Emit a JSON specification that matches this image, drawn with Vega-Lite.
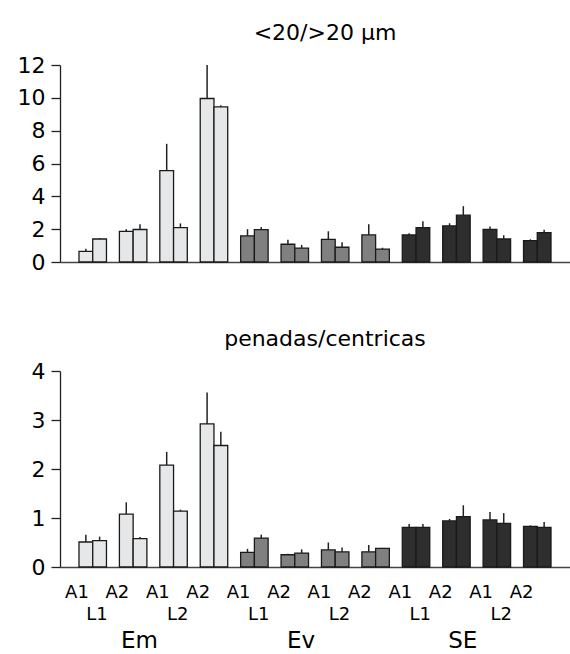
{
  "$schema": "https://vega.github.io/schema/vega-lite/v6.json",
  "padding": {"left": 17, "top": 22, "right": 0, "bottom": 0},
  "config": {
    "view": {"stroke": null},
    "title": {"font": "DejaVu Sans", "fontSize": 22, "fontWeight": "normal", "color": "#000", "dx": 10, "offset": 9},
    "axisY": {"labelFont": "DejaVu Sans", "labelFontSize": 22, "labelColor": "#000", "domainColor": "#222", "domainWidth": 1.3, "tickColor": "#222", "tickWidth": 1.3, "tickSize": 9, "labelPadding": 6, "grid": false, "title": null, "labelOverlap": false},
    "axisX": {"labels": false, "ticks": false, "title": null, "domainColor": "#444", "domainWidth": 1.5, "grid": false}
  },
  "data": {"values": [
    {"p":"a","t":"Em","l":"L1","a":"A1","g":"Em L1 A1","b":1,"v":0.65,"u":0.8},
    {"p":"a","t":"Em","l":"L1","a":"A1","g":"Em L1 A1","b":2,"v":1.4,"u":1.45},
    {"p":"a","t":"Em","l":"L1","a":"A2","g":"Em L1 A2","b":1,"v":1.87,"u":2.0},
    {"p":"a","t":"Em","l":"L1","a":"A2","g":"Em L1 A2","b":2,"v":1.98,"u":2.3},
    {"p":"a","t":"Em","l":"L2","a":"A1","g":"Em L2 A1","b":1,"v":5.57,"u":7.2},
    {"p":"a","t":"Em","l":"L2","a":"A1","g":"Em L2 A1","b":2,"v":2.1,"u":2.35},
    {"p":"a","t":"Em","l":"L2","a":"A2","g":"Em L2 A2","b":1,"v":9.96,"u":12.0},
    {"p":"a","t":"Em","l":"L2","a":"A2","g":"Em L2 A2","b":2,"v":9.45,"u":9.55},
    {"p":"a","t":"Ev","l":"L1","a":"A1","g":"Ev L1 A1","b":1,"v":1.59,"u":2.0},
    {"p":"a","t":"Ev","l":"L1","a":"A1","g":"Ev L1 A1","b":2,"v":1.97,"u":2.13},
    {"p":"a","t":"Ev","l":"L1","a":"A2","g":"Ev L1 A2","b":1,"v":1.08,"u":1.36},
    {"p":"a","t":"Ev","l":"L1","a":"A2","g":"Ev L1 A2","b":2,"v":0.85,"u":1.04},
    {"p":"a","t":"Ev","l":"L2","a":"A1","g":"Ev L2 A1","b":1,"v":1.38,"u":1.87},
    {"p":"a","t":"Ev","l":"L2","a":"A1","g":"Ev L2 A1","b":2,"v":0.9,"u":1.2},
    {"p":"a","t":"Ev","l":"L2","a":"A2","g":"Ev L2 A2","b":1,"v":1.65,"u":2.3},
    {"p":"a","t":"Ev","l":"L2","a":"A2","g":"Ev L2 A2","b":2,"v":0.79,"u":0.87},
    {"p":"a","t":"SE","l":"L1","a":"A1","g":"SE L1 A1","b":1,"v":1.65,"u":1.75},
    {"p":"a","t":"SE","l":"L1","a":"A1","g":"SE L1 A1","b":2,"v":2.09,"u":2.48},
    {"p":"a","t":"SE","l":"L1","a":"A2","g":"SE L1 A2","b":1,"v":2.2,"u":2.36},
    {"p":"a","t":"SE","l":"L1","a":"A2","g":"SE L1 A2","b":2,"v":2.85,"u":3.4},
    {"p":"a","t":"SE","l":"L2","a":"A1","g":"SE L2 A1","b":1,"v":1.99,"u":2.17},
    {"p":"a","t":"SE","l":"L2","a":"A1","g":"SE L2 A1","b":2,"v":1.4,"u":1.63},
    {"p":"a","t":"SE","l":"L2","a":"A2","g":"SE L2 A2","b":1,"v":1.3,"u":1.38},
    {"p":"a","t":"SE","l":"L2","a":"A2","g":"SE L2 A2","b":2,"v":1.79,"u":1.97},
    {"p":"b","t":"Em","l":"L1","a":"A1","g":"Em L1 A1","b":1,"v":0.51,"u":0.66},
    {"p":"b","t":"Em","l":"L1","a":"A1","g":"Em L1 A1","b":2,"v":0.54,"u":0.62},
    {"p":"b","t":"Em","l":"L1","a":"A2","g":"Em L1 A2","b":1,"v":1.08,"u":1.32},
    {"p":"b","t":"Em","l":"L1","a":"A2","g":"Em L1 A2","b":2,"v":0.58,"u":0.61},
    {"p":"b","t":"Em","l":"L2","a":"A1","g":"Em L2 A1","b":1,"v":2.08,"u":2.35},
    {"p":"b","t":"Em","l":"L2","a":"A1","g":"Em L2 A1","b":2,"v":1.14,"u":1.17},
    {"p":"b","t":"Em","l":"L2","a":"A2","g":"Em L2 A2","b":1,"v":2.92,"u":3.56},
    {"p":"b","t":"Em","l":"L2","a":"A2","g":"Em L2 A2","b":2,"v":2.48,"u":2.76},
    {"p":"b","t":"Ev","l":"L1","a":"A1","g":"Ev L1 A1","b":1,"v":0.3,"u":0.37},
    {"p":"b","t":"Ev","l":"L1","a":"A1","g":"Ev L1 A1","b":2,"v":0.59,"u":0.66},
    {"p":"b","t":"Ev","l":"L1","a":"A2","g":"Ev L1 A2","b":1,"v":0.25,"u":0.27},
    {"p":"b","t":"Ev","l":"L1","a":"A2","g":"Ev L1 A2","b":2,"v":0.285,"u":0.36},
    {"p":"b","t":"Ev","l":"L2","a":"A1","g":"Ev L2 A1","b":1,"v":0.35,"u":0.5},
    {"p":"b","t":"Ev","l":"L2","a":"A1","g":"Ev L2 A1","b":2,"v":0.31,"u":0.4},
    {"p":"b","t":"Ev","l":"L2","a":"A2","g":"Ev L2 A2","b":1,"v":0.31,"u":0.45},
    {"p":"b","t":"Ev","l":"L2","a":"A2","g":"Ev L2 A2","b":2,"v":0.38,"u":0.39},
    {"p":"b","t":"SE","l":"L1","a":"A1","g":"SE L1 A1","b":1,"v":0.81,"u":0.88},
    {"p":"b","t":"SE","l":"L1","a":"A1","g":"SE L1 A1","b":2,"v":0.81,"u":0.88},
    {"p":"b","t":"SE","l":"L1","a":"A2","g":"SE L1 A2","b":1,"v":0.94,"u":0.98},
    {"p":"b","t":"SE","l":"L1","a":"A2","g":"SE L1 A2","b":2,"v":1.03,"u":1.26},
    {"p":"b","t":"SE","l":"L2","a":"A1","g":"SE L2 A1","b":1,"v":0.96,"u":1.12},
    {"p":"b","t":"SE","l":"L2","a":"A1","g":"SE L2 A1","b":2,"v":0.89,"u":1.1},
    {"p":"b","t":"SE","l":"L2","a":"A2","g":"SE L2 A2","b":1,"v":0.83,"u":0.85},
    {"p":"b","t":"SE","l":"L2","a":"A2","g":"SE L2 A2","b":2,"v":0.81,"u":0.92}
  ]},
  "spacing": 55,
  "vconcat": [
    {
      "title": "<20/>20  µm",
      "width": 510,
      "height": 197,
      "transform": [{"filter": "datum.p === 'a'"}],
      "encoding": {
        "x": {"field": "g", "type": "nominal", "sort": null, "scale": {"paddingInner": 0.32, "paddingOuter": 0.47}},
        "xOffset": {"field": "b", "type": "nominal", "scale": {"paddingInner": 0, "paddingOuter": 0}},
        "y": {"field": "v", "type": "quantitative", "scale": {"domain": [0, 12], "nice": false}, "axis": {"values": [0, 2, 4, 6, 8, 10, 12]}}
      },
      "layer": [
        {
          "mark": {"type": "bar", "stroke": "#1a1a1a", "strokeWidth": 1.3},
          "encoding": {
            "color": {"field": "t", "type": "nominal", "scale": {"domain": ["Em", "Ev", "SE"], "range": ["#e6e7e8", "#808080", "#2e2e2e"]}, "legend": null}
          }
        },
        {
          "mark": {"type": "rule", "color": "#222", "strokeWidth": 1.5},
          "encoding": {
            "y2": {"field": "u"}
          }
        }
      ]
    },
    {
      "title": "penadas/centricas",
      "width": 510,
      "height": 196,
      "transform": [{"filter": "datum.p === 'b'"}],
      "encoding": {
        "x": {"field": "g", "type": "nominal", "sort": null, "scale": {"paddingInner": 0.32, "paddingOuter": 0.47}},
        "xOffset": {"field": "b", "type": "nominal", "scale": {"paddingInner": 0, "paddingOuter": 0}}
      },
      "layer": [
        {
          "mark": {"type": "bar", "stroke": "#1a1a1a", "strokeWidth": 1.3},
          "encoding": {
            "y": {"field": "v", "type": "quantitative", "scale": {"domain": [0, 4], "nice": false}, "axis": {"values": [0, 1, 2, 3, 4]}},
            "color": {"field": "t", "type": "nominal", "scale": {"domain": ["Em", "Ev", "SE"], "range": ["#e6e7e8", "#808080", "#2e2e2e"]}, "legend": null}
          }
        },
        {
          "mark": {"type": "rule", "color": "#222", "strokeWidth": 1.5},
          "encoding": {
            "y": {"field": "v", "type": "quantitative", "axis": {"values": [0, 1, 2, 3, 4]}},
            "y2": {"field": "u"}
          }
        },
        {
          "transform": [{"filter": "datum.b === 1"}],
          "mark": {"type": "text", "font": "DejaVu Sans", "fontSize": 18, "dy": 31, "dx": -2, "baseline": "alphabetic", "color": "#000"},
          "encoding": {
            "xOffset": {"value": 0},
            "y": {"datum": 0, "type": "quantitative"},
            "text": {"field": "a"}
          }
        },
        {
          "transform": [{"filter": "datum.b === 1 && datum.a === 'A1'"}],
          "mark": {"type": "text", "font": "DejaVu Sans", "fontSize": 18, "dy": 53, "dx": 18, "baseline": "alphabetic", "color": "#000"},
          "encoding": {
            "xOffset": {"value": 0},
            "y": {"datum": 0, "type": "quantitative"},
            "text": {"field": "l"}
          }
        },
        {
          "transform": [{"filter": "datum.b === 1 && datum.a === 'A2' && datum.l === 'L1'"}],
          "mark": {"type": "text", "font": "DejaVu Sans", "fontSize": 23, "dy": 81, "dx": 20, "baseline": "alphabetic", "color": "#000"},
          "encoding": {
            "xOffset": {"value": 0},
            "y": {"datum": 0, "type": "quantitative"},
            "text": {"field": "t"}
          }
        }
      ]
    }
  ]
}
